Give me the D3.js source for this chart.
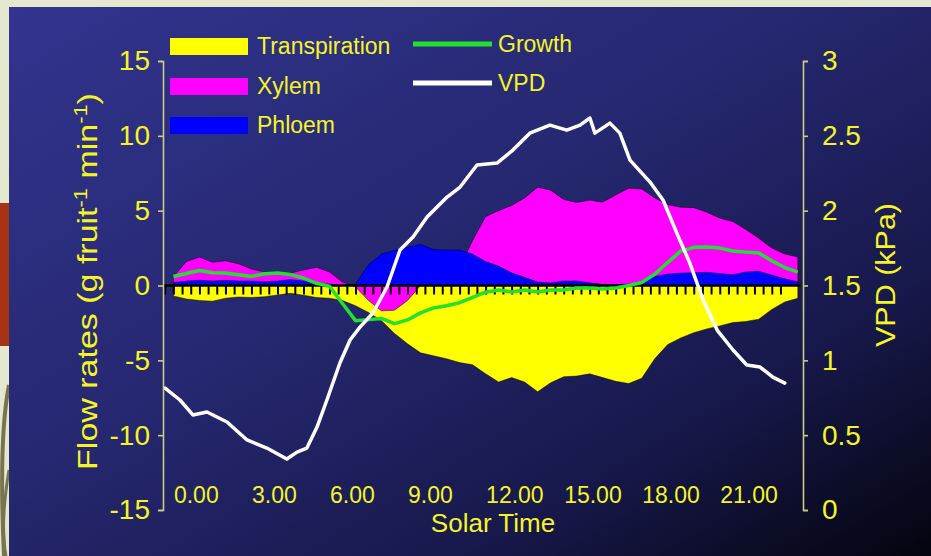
<!DOCTYPE html>
<html>
<head>
<meta charset="utf-8">
<script src="https://cdn.jsdelivr.net/npm/d3@7"></script>
<style>
  body { margin: 0; background: #e4e8cf; }
  svg { display: block; font-family: Arial, "Liberation Sans", sans-serif; }
</style>
</head>
<body>
<svg id="chart" width="931" height="556"></svg>
<script>
// solar time (h) for the flow series
const hours = [0, 0.5, 1, 1.5, 2, 2.5, 3, 3.5, 4, 4.5, 5, 5.5, 6, 6.5, 7, 7.5, 8, 8.5, 9, 9.5,
  10, 10.5, 11, 11.5, 12, 12.5, 13, 13.5, 14, 14.5, 15, 15.5, 16, 16.5, 17, 17.5, 18, 18.5,
  19, 19.5, 20, 20.5, 21, 21.5, 22, 22.5, 23, 23.5, 24];

// flow rates, g fruit-1 min-1
const transpiration = [-0.7, -0.9, -1.0, -1.05, -0.85, -0.77, -0.8, -0.75, -0.63, -0.52, -0.65,
  -0.8, -0.85, -1.0, -1.35, -1.8, -2.35, -3.2, -3.9, -4.5, -4.7, -4.9, -5.15, -5.3, -5.9, -6.45,
  -6.15, -6.45, -7.1, -6.5, -6.1, -6.05, -5.9, -6.15, -6.4, -6.55, -6.2, -4.9, -3.95, -3.5,
  -3.15, -2.9, -2.7, -2.48, -2.4, -2.25, -1.6, -1.1, -0.85];
const xylem = [0.6, 1.6, 1.9, 1.55, 1.65, 1.45, 1.1, 0.9, 0.88, 0.83, 1.03, 1.22, 0.9, 0.23,
  -0.1, -1.0, -1.7, -1.65, -1.0, 0, 0.3, 0.6, 1.2, 3.0, 4.6, 5.0, 5.35, 5.85, 6.57, 6.37, 5.75,
  5.55, 5.7, 5.57, 6.05, 6.5, 6.45, 5.85, 5.4, 5.23, 5.2, 4.9, 4.5, 4.27, 3.75, 3.15, 2.5, 2.1, 1.9];
const phloem = [0.2, 0.3, 0.35, 0.3, 0.35, 0.3, 0.3, 0.25, 0.3, 0.4, 0.3, 0.2, 0.1, 0, 0.1,
  1.4, 2.1, 2.35, 2.55, 2.75, 2.4, 2.37, 2.37, 2.1, 1.6, 1.3, 0.85, 0.55, 0.23, 0.17, 0.3, 0.3,
  0.18, 0.08, 0.05, 0.1, 0.2, 0.6, 0.77, 0.83, 0.85, 0.88, 0.8, 0.72, 0.9, 0.95, 0.7, 0.45, 0.25];
const growth = [0.6, 0.8, 1.0, 0.85, 0.83, 0.72, 0.6, 0.78, 0.83, 0.73, 0.5, 0.15, -0.05, -1.2,
  -2.35, -2.28, -2.2, -2.55, -2.3, -1.83, -1.5, -1.35, -1.15, -0.8, -0.45, -0.3, -0.43, -0.3,
  -0.43, -0.3, -0.3, -0.17, -0.17, -0.23, -0.17, 0.0, 0.2, 0.75, 1.55, 2.3, 2.55, 2.57, 2.5,
  2.3, 2.23, 2.17, 1.65, 1.2, 0.9];

// vapour pressure deficit, kPa
const vpdHours = [-0.32, 0.25, 0.75, 1.29, 2.06, 2.83, 3.59, 4.36, 4.75, 5.13, 5.52, 5.9, 6.4,
  6.79, 7.17, 7.67, 8.21, 8.71, 9.21, 9.75, 10.52, 11.02, 11.67, 12.44, 13.05, 13.7, 14.47,
  15.12, 15.63, 16.01, 16.2, 16.78, 17.16, 17.55, 18.32, 18.82, 19.35, 19.85, 20.36, 20.9,
  21.51, 22.04, 22.55, 23.04, 23.5];
const vpd = [0.815, 0.735, 0.635, 0.655, 0.588, 0.468, 0.414, 0.341, 0.387, 0.414, 0.554,
  0.735, 0.982, 1.136, 1.222, 1.316, 1.49, 1.737, 1.824, 1.957, 2.091, 2.158, 2.305, 2.318,
  2.405, 2.518, 2.572, 2.538, 2.572, 2.619, 2.518, 2.585, 2.518, 2.338, 2.191, 2.071, 1.85,
  1.65, 1.403, 1.202, 1.069, 0.969, 0.955, 0.888, 0.848];

const timeLabels = [0, 3, 6, 9, 12, 15, 18, 21];
const flowTicks = [-15, -10, -5, 0, 5, 10, 15];
const vpdTicks = [0, 0.5, 1, 1.5, 2, 2.5, 3];

const textColor = "#f5f526";
const axisColor = "#cdcb84";

var svg = d3.select("#chart");

// slide background
var defs = svg.append("defs");
var grad = defs.append("linearGradient")
  .attr("id", "panel")
  .attr("x1", 0).attr("y1", 0).attr("x2", 1).attr("y2", 1);
grad.append("stop").attr("offset", 0).attr("stop-color", "#32348f");
grad.append("stop").attr("offset", 0.45).attr("stop-color", "#25276f");
grad.append("stop").attr("offset", 0.75).attr("stop-color", "#17184a");
grad.append("stop").attr("offset", 1).attr("stop-color", "#04040e");

svg.append("rect").attr("x", 0).attr("y", 203).attr("width", 9).attr("height", 143)
  .attr("fill", "#a83214");
svg.append("path").attr("d", "M9,385 C2,420 0,470 4,556")
  .attr("fill", "none").attr("stroke", "#7a7350").attr("stroke-width", 4);
svg.append("path").attr("d", "M9,470 C4,500 1,530 6,556")
  .attr("fill", "none").attr("stroke", "#7a7350").attr("stroke-width", 3);
svg.append("rect").attr("x", 9).attr("y", 7).attr("width", 922).attr("height", 549)
  .attr("fill", "url(#panel)");

// scales
var x = d3.scaleLinear().domain([-0.4, 24.2]).range([163, 803]);
var yFlow = d3.scaleLinear().domain([-15, 15]).range([510, 61]);
var yVpd = d3.scaleLinear().domain([0, 3]).range([510, 61]);

function flowArea(values) {
  return d3.area()
    .x((d, i) => x(hours[i]))
    .y0(yFlow(0))
    .y1((d) => yFlow(d))(values);
}

// areas: transpiration behind, then xylem, then phloem
[[transpiration, "#ffff00"], [xylem, "#ff00ff"], [phloem, "#0000ff"]].forEach(function (s) {
  svg.append("path")
    .attr("d", flowArea(s[0]))
    .attr("fill", s[1])
    .attr("stroke", "rgba(0,0,0,0.45)")
    .attr("stroke-width", 1);
});

// zero line with 20-minute ticks
var minuteTicks = d3.range(-1, 71).map((k) => k / 3);
var zeroAxis = svg.append("g")
  .attr("transform", `translate(0,${yFlow(0)})`)
  .call(d3.axisBottom(x).tickValues(minuteTicks).tickSize(9).tickSizeOuter(0).tickFormat(""));
zeroAxis.select(".domain").attr("stroke", "#000").attr("stroke-width", 2.5)
  .attr("d", `M${x(-0.4)},0H${x(24.1)}`);
zeroAxis.selectAll(".tick line").attr("stroke", "#000").attr("stroke-width", 2);

// growth and VPD lines
svg.append("path")
  .attr("d", d3.line().x((d, i) => x(hours[i])).y((d) => yFlow(d))(growth))
  .attr("fill", "none").attr("stroke", "#22e030").attr("stroke-width", 3.5)
  .attr("stroke-linejoin", "round");
svg.append("path")
  .attr("d", d3.line().x((d, i) => x(vpdHours[i])).y((d) => yVpd(d))(vpd))
  .attr("fill", "none").attr("stroke", "#ffffff").attr("stroke-width", 3.5)
  .attr("stroke-linejoin", "round").attr("stroke-linecap", "round");

function styleAxis(g, size) {
  g.attr("font-family", null).attr("font-size", null);
  g.select(".domain").attr("stroke", axisColor).attr("stroke-width", 1.6);
  g.selectAll(".tick line").attr("stroke", axisColor).attr("stroke-width", 1.6);
  g.selectAll(".tick text").attr("fill", textColor).style("font-size", size + "px");
}

// left axis
var leftAxis = svg.append("g")
  .attr("transform", "translate(163,0)")
  .call(d3.axisLeft(yFlow).tickValues(flowTicks).tickSize(5).tickPadding(8)
    .tickFormat((d) => String(d)));
styleAxis(leftAxis, 28);

// right axis
var rightAxis = svg.append("g")
  .attr("transform", "translate(803,0)")
  .call(d3.axisRight(yVpd).tickValues(vpdTicks).tickSize(5).tickPadding(14)
    .tickFormat(d3.format("~g")));
styleAxis(rightAxis, 28);

// time labels
var timeAxis = svg.append("g")
  .attr("transform", "translate(0,487)")
  .call(d3.axisBottom(x).tickValues(timeLabels).tickSize(0).tickPadding(0)
    .tickFormat(d3.format(".2f")));
timeAxis.select(".domain").remove();
styleAxis(timeAxis, 23);
timeAxis.selectAll(".tick text").attr("text-anchor", "start");

svg.append("text")
  .attr("x", 493).attr("y", 532)
  .attr("text-anchor", "middle")
  .attr("fill", textColor).style("font-size", "26px")
  .text("Solar Time");

// rotated titles, stretched along their length like the slide
function rotatedTitle(cx, cy, len) {
  var g = svg.append("g").attr("transform", `translate(${cx},${cy}) rotate(-90)`);
  var t = g.append("text").attr("text-anchor", "middle")
    .attr("fill", textColor).style("font-size", "28px");
  return t;
}
var leftTitle = rotatedTitle(97, 281.5);
leftTitle.append("tspan").text("Flow rates (g fruit");
leftTitle.append("tspan").attr("baseline-shift", "super").style("font-size", "18px").text("-1");
leftTitle.append("tspan").text(" min");
leftTitle.append("tspan").attr("baseline-shift", "super").style("font-size", "18px").text("-1");
leftTitle.append("tspan").text(")");
leftTitle.attr("transform", `scale(${377 / leftTitle.node().getBBox().width},1)`);

var rightTitle = rotatedTitle(895, 275).text("VPD (kPa)");
rightTitle.attr("transform", `scale(${144 / rightTitle.node().getBBox().width},1)`);

// legend
var swatches = [["Transpiration", "#ffff00", 38], ["Xylem", "#ff00ff", 78], ["Phloem", "#0000ff", 117]];
swatches.forEach(function (s) {
  svg.append("rect").attr("x", 170).attr("y", s[2]).attr("width", 78).attr("height", 17)
    .attr("fill", s[1]);
  svg.append("text").attr("x", 257).attr("y", s[2] + 16)
    .attr("fill", textColor).style("font-size", "23px").text(s[0]);
});
var lineKeys = [["Growth", "#22e030", 44], ["VPD", "#ffffff", 83]];
lineKeys.forEach(function (s) {
  svg.append("line").attr("x1", 413).attr("x2", 492).attr("y1", s[2]).attr("y2", s[2])
    .attr("stroke", s[1]).attr("stroke-width", 5);
  svg.append("text").attr("x", 498).attr("y", s[2] + 8)
    .attr("fill", textColor).style("font-size", "23px").text(s[0]);
});
</script>
</body>
</html>
